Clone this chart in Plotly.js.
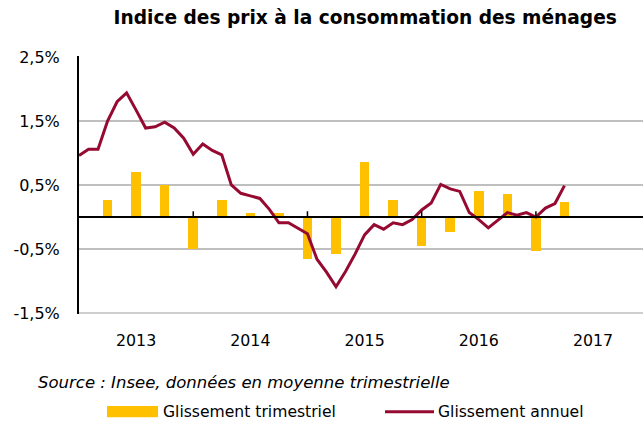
<!DOCTYPE html>
<html>
<head>
<meta charset="utf-8">
<script src="https://cdn.plot.ly/plotly-3.0.1.min.js"></script>
<style>html,body{margin:0;padding:0;background:#fff;}#chart{width:643px;height:421px;}</style>
</head>
<body>
<div id="chart"></div>
<script>
// Month index (0 = January 2013) of each monthly observation
const lineMonths = [0,1,2,3,4,5,6,7,8,9,10,11,12,13,14,15,16,17,18,19,20,21,22,23,24,25,26,27,28,29,30,31,32,33,34,35,36,37,38,39,40,41,42,43,44,45,46,47,48,49,50,51];
// Glissement annuel (%)
const annualValues = [0.96,1.06,1.06,1.50,1.80,1.94,1.67,1.39,1.41,1.48,1.39,1.23,0.98,1.14,1.04,0.97,0.50,0.37,0.33,0.29,0.12,-0.09,-0.09,-0.18,-0.26,-0.66,-0.86,-1.09,-0.85,-0.58,-0.28,-0.12,-0.19,-0.09,-0.12,-0.04,0.11,0.22,0.51,0.44,0.40,0.07,-0.04,-0.17,-0.05,0.07,0.03,0.07,0.00,0.14,0.21,0.49];
// Quarter-end positions and Glissement trimestriel (%)
const quarterMonths = [3,6,9,12,15,18,21,24,27,30,33,36,39,42,45,48,51];
const quarterValues = [0.27,0.70,0.50,-0.50,0.27,0.06,0.06,-0.66,-0.57,0.86,0.27,-0.46,-0.23,0.40,0.36,-0.53,0.23];
// Year labels and year boundaries
const yearLabels = ["2013","2014","2015","2016","2017"];
const yearCenters = [6,18,30,42,54];
const yearBoundaries = [12,24,36,48];
const yTickVals = [2.5,1.5,0.5,-0.5,-1.5];
const yTickText = ["2,5%","1,5%","0,5%","-0,5%","-1,5%"];

const FONT = "Tahoma, 'DejaVu Sans', sans-serif";
const barColor = "#FFC000";
const lineColor = "#960A32";

const traces = [
  {type:"bar", x:quarterMonths, y:quarterValues, width:1, marker:{color:barColor},
   name:"Glissement trimestriel", hoverinfo:"skip"},
  {type:"scatter", mode:"lines", x:lineMonths, y:annualValues, line:{color:lineColor,width:3},
   name:"Glissement annuel", hoverinfo:"skip"}
];

const shapes = [
  {type:"line", xref:"paper", yref:"y", x0:0, x1:1, y0:yTickVals[yTickVals.length-1], y1:yTickVals[yTickVals.length-1], line:{color:"#BFBFBF",width:1.5}, layer:"below"},
  {type:"line", xref:"paper", yref:"y", x0:0, x1:1, y0:0, y1:0, line:{color:"#000",width:2}, layer:"above"}
];
yearBoundaries.forEach(b => shapes.push({type:"line", xref:"x", yref:"y", x0:b, x1:b, y0:0, y1:0.09, line:{color:"#000",width:1.5}}));
// legend swatches
shapes.push({type:"rect", xref:"paper", yref:"paper", x0:(107-79)/564, x1:(158-79)/564, y0:-0.40, y1:-0.357, fillcolor:barColor, line:{width:0}});
shapes.push({type:"line", xref:"paper", yref:"paper", x0:(385-79)/564, x1:(434-79)/564, y0:-0.379, y1:-0.379, line:{color:lineColor,width:3}});

const annotations = [
  {xref:"paper", yref:"paper", x:(36-79)/564, y:-0.265, xanchor:"left", yanchor:"middle", showarrow:false,
   text:"<i>Source : Insee, données en moyenne trimestrielle</i>", font:{family:FONT,size:16.5,color:"#000"}},
  {xref:"paper", yref:"paper", x:(161-79)/564, y:-0.379, xanchor:"left", yanchor:"middle", showarrow:false,
   text:"Glissement trimestriel", font:{family:FONT,size:15.6,color:"#000"}},
  {xref:"paper", yref:"paper", x:(436-79)/564, y:-0.379, xanchor:"left", yanchor:"middle", showarrow:false,
   text:"Glissement annuel", font:{family:FONT,size:15.6,color:"#000"}}
];

const layout = {
  width:643, height:421,
  margin:{l:79, r:0, t:56, b:107},
  paper_bgcolor:"#fff", plot_bgcolor:"#fff",
  showlegend:false,
  title:{text:"<b>Indice des prix à la consommation des ménages</b>", x:0.568, xanchor:"center", y:0.975, yanchor:"top",
         font:{family:FONT, size:18.6, color:"#000"}},
  xaxis:{range:[0,59.25], tickvals:yearCenters, ticktext:yearLabels, showgrid:false, zeroline:false,
         showline:false, ticks:"", ticklabelstandoff:15, tickfont:{family:FONT,size:15.8,color:"#000"}, fixedrange:true},
  yaxis:{range:[-1.515,2.515], tickvals:yTickVals, ticktext:yTickText, showgrid:true, gridcolor:"#BFBFBF", gridwidth:1.5,
         zeroline:false, showline:true, linecolor:"#000", linewidth:2, ticks:"", ticklen:0, ticklabelstandoff:14,
         tickfont:{family:FONT,size:16,color:"#000"}, fixedrange:true},
  shapes:shapes, annotations:annotations,
  bargap:0
};
Plotly.newPlot("chart", traces, layout, {staticPlot:true, displayModeBar:false});
</script>
</body>
</html>
